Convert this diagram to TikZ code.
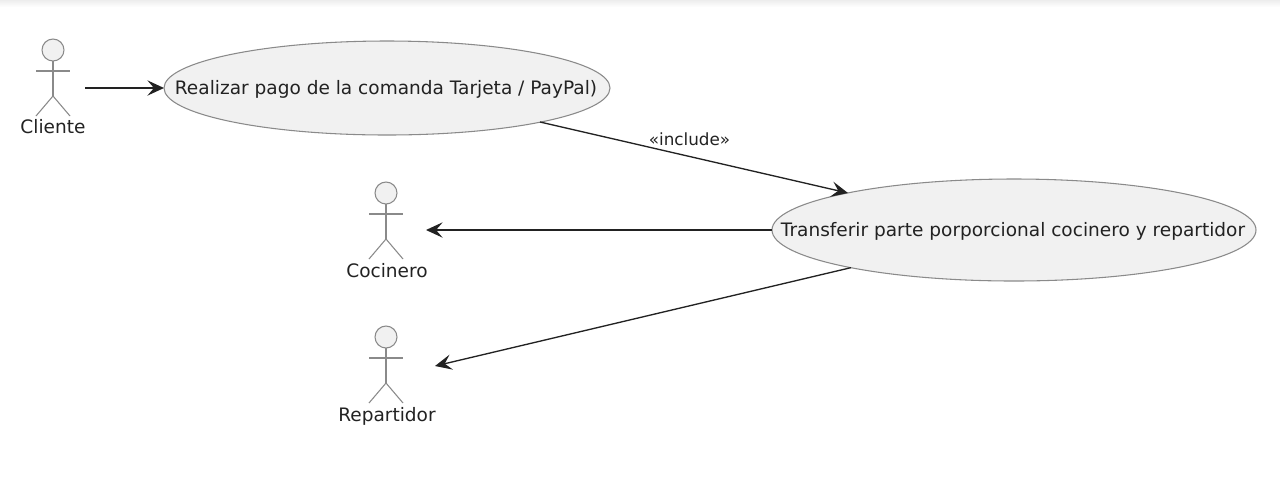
\documentclass[tikz,border=0pt]{standalone}
\usepackage{fontspec}
\setmainfont{DejaVu Sans}
\usetikzlibrary{arrows.meta,shapes.geometric,calc}
\definecolor{ucfill}{HTML}{F1F1F1}
\definecolor{ucline}{HTML}{8A8A8A}
\definecolor{ink}{HTML}{222222}
\tikzset{
  ucase/.style={ellipse,draw=ucline,fill=ucfill,line width=0.8pt,inner sep=0pt,outer sep=0pt},
  uctext/.style={text=ink,font=\fontsize{13.9}{16}\selectfont,inner sep=0pt},
  head/.style={circle,draw=ucline,fill=ucfill,line width=0.8pt,inner sep=0pt,outer sep=0pt,minimum size=16.5pt},
  limb/.style={draw=ucline,line width=0.8pt},
  conn/.style={draw=ink,line width=1pt,-{Stealth[length=12.5pt,width=11.5pt,inset=5pt]}}
}
\newcommand{\actorfig}[6]{% name, x, head y, label, label x, label y
  \node[head] (#1h) at (#2,#3) {};
  \draw[limb] (#1h.south) -- ++(0,35) coordinate (#1hip);
  \draw[limb] ($(#1h.south)+(-17,10)$) -- ++(34,0);
  \draw[limb] (#1hip) -- ++(-17,20);
  \draw[limb] (#1hip) -- ++(17,20);
  \node[uctext] (#1l) at (#5,#6) {#4};
}
\begin{document}
\begin{tikzpicture}[x=0.75pt,y=-0.75pt]
\useasboundingbox (0,0) rectangle (1280,480);
\shade[top color=black!7,bottom color=white] (0,0) rectangle (1280,7);
\node[ucase,minimum width=334.5pt,minimum height=70.5pt] (e1) at (387,88) {};
\node[uctext] (t1) at (386,89) {Realizar pago de la comanda Tarjeta / PayPal)};
\node[ucase,minimum width=363pt,minimum height=76.5pt] (e2) at (1014,230) {};
\node[uctext] (t2) at (1013,231) {Transferir parte porporcional cocinero y repartidor};
\actorfig{a}{53}{50}{Cliente}{53}{127}
\actorfig{b}{386}{193}{Cocinero}{387}{271}
\actorfig{c}{386}{337}{Repartidor}{387}{416}
\coordinate (ae) at (85,88);
\coordinate (be) at (426,230);
\coordinate (ce) at (435,366);
\draw[conn] (ae) -- (e1.west);
\draw[conn] ($(e1.center)+(153,34)$) -- ($(e2.center)+(-166,-37)$);
\draw[conn] (e2.west) -- (be);
\draw[conn] (e2.193) -- (ce);
\node[uctext,font=\fontsize{12.6}{14}\selectfont] (inc) at (689.5,139) {«include»};
\end{tikzpicture}
\end{document}
